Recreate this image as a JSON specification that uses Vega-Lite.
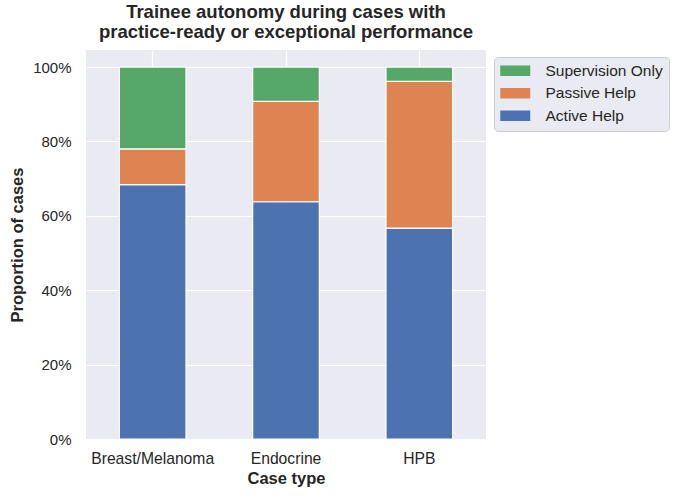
{
  "$schema": "https://vega.github.io/schema/vega-lite/v6.json",
  "width": 400,
  "height": 389,
  "autosize": {"type": "none"},
  "padding": {"left": 86, "top": 50, "right": 194, "bottom": 58},
  "background": "white",
  "config": {
    "font": "Liberation Sans",
    "view": {"fill": "#EAEAF2", "stroke": null},
    "axis": {
      "domain": false,
      "ticks": false,
      "gridColor": "white",
      "gridWidth": 1.2,
      "labelFontSize": 15,
      "labelColor": "#262626",
      "titleFontSize": 16.5,
      "titleFontWeight": "bold",
      "titleColor": "#262626"
    }
  },
  "title": {
    "text": ["Trainee autonomy during cases with", "practice-ready or exceptional performance"],
    "fontSize": 18.5,
    "fontWeight": "bold",
    "color": "#262626",
    "lineHeight": 20,
    "offset": 9,
    "anchor": "middle"
  },
  "data": {
    "values": [
      {"Case": "Breast/Melanoma", "Type": "Active Help", "Share": 0.684},
      {"Case": "Breast/Melanoma", "Type": "Passive Help", "Share": 0.096},
      {"Case": "Breast/Melanoma", "Type": "Supervision Only", "Share": 0.220},
      {"Case": "Endocrine", "Type": "Active Help", "Share": 0.638},
      {"Case": "Endocrine", "Type": "Passive Help", "Share": 0.270},
      {"Case": "Endocrine", "Type": "Supervision Only", "Share": 0.092},
      {"Case": "HPB", "Type": "Active Help", "Share": 0.567},
      {"Case": "HPB", "Type": "Passive Help", "Share": 0.395},
      {"Case": "HPB", "Type": "Supervision Only", "Share": 0.038}
    ]
  },
  "mark": {"type": "bar", "stroke": "white", "strokeWidth": 1.2},
  "encoding": {
    "x": {
      "field": "Case",
      "type": "nominal",
      "title": "Case type",
      "sort": null,
      "scale": {"paddingInner": 0.5, "paddingOuter": 0.25},
      "axis": {"labelAngle": 0, "bandPosition": 0.5, "grid": true, "labelFontSize": 15.7, "labelPadding": 12, "titlePadding": 5}
    },
    "y": {
      "field": "Share",
      "type": "quantitative",
      "title": "Proportion of cases",
      "stack": "zero",
      "scale": {"domain": [0, 1.046], "nice": false},
      "axis": {"values": [0, 0.2, 0.4, 0.6, 0.8, 1.0], "format": ".0%", "labelPadding": 15, "titlePadding": 7}
    },
    "color": {
      "field": "Type",
      "type": "nominal",
      "scale": {
        "domain": ["Supervision Only", "Passive Help", "Active Help"],
        "range": ["#55A868", "#DD8452", "#4C72B0"]
      },
      "legend": {
        "title": null,
        "orient": "none",
        "legendX": 408,
        "legendY": 7,
        "fillColor": "#EAEAF2",
        "strokeColor": "#CCCCCC",
        "cornerRadius": 4,
        "padding": 6,
        "symbolType": "M-1,-0.7H3V0.7H-1Z",
        "symbolSize": 225,
        "symbolStrokeWidth": 0,
        "symbolOpacity": 1,
        "labelFontSize": 15.5,
        "labelColor": "#262626",
        "labelOffset": 30,
        "rowPadding": 5.5
      }
    },
    "order": {"field": "Type", "sort": "ascending"}
  }
}
